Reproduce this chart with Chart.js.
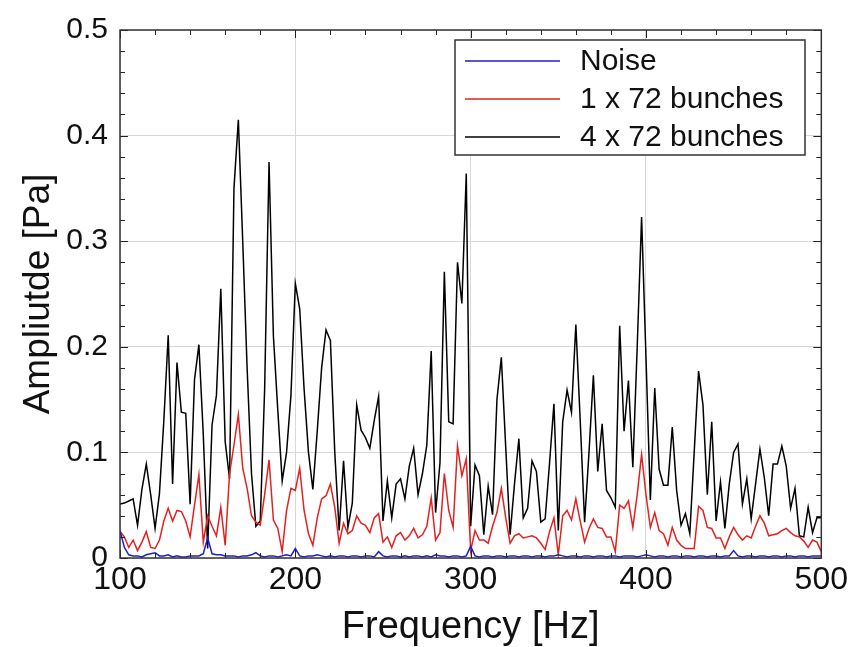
<!DOCTYPE html>
<html>
<head>
<meta charset="utf-8">
<script src="https://cdn.jsdelivr.net/npm/chart.js@4"></script>
<style>
  html, body { margin: 0; padding: 0; background: #fff; }
  #wrap { width: 851px; height: 647px; }
</style>
</head>
<body>
<div id="wrap"><canvas id="specChart" width="851" height="647"></canvas></div>
<script>
// spectrum sampled every 2.5 Hz from 100 to 500 Hz
const FREQ_START = 100;
const FREQ_STEP = 2.5;
const seriesLabels = ['Noise', '1 x 72 bunches', '4 x 72 bunches'];
const xTicks = [100, 200, 300, 400, 500];
const yTicks = [0, 0.1, 0.2, 0.3, 0.4, 0.5];

const noise = [
  0.026,0.010,0.003,0.002,0.002,0.001,0.003,0.004,0.005,0.002,
  0.002,0.003,0.001,0.002,0.001,0.001,0.002,0.002,0.002,0.004,
  0.019,0.004,0.003,0.003,0.002,0.002,0.002,0.001,0.002,0.002,
  0.003,0.005,0.002,0.001,0.002,0.002,0.001,0.002,0.003,0.002,
  0.009,0.002,0.001,0.002,0.002,0.003,0.002,0.001,0.002,0.001,
  0.002,0.002,0.001,0.002,0.002,0.001,0.002,0.002,0.001,0.006,
  0.002,0.001,0.002,0.002,0.001,0.002,0.001,0.002,0.002,0.001,
  0.002,0.001,0.003,0.002,0.002,0.001,0.002,0.002,0.001,0.002,
  0.011,0.002,0.001,0.002,0.002,0.001,0.002,0.002,0.001,0.002,
  0.002,0.001,0.002,0.002,0.001,0.002,0.002,0.001,0.002,0.002,
  0.003,0.002,0.001,0.002,0.002,0.001,0.002,0.002,0.001,0.002,
  0.002,0.001,0.002,0.002,0.001,0.002,0.002,0.002,0.001,0.002,
  0.003,0.002,0.001,0.002,0.002,0.001,0.002,0.002,0.001,0.002,
  0.002,0.001,0.002,0.002,0.001,0.002,0.002,0.001,0.002,0.002,
  0.007,0.002,0.001,0.002,0.002,0.001,0.002,0.002,0.001,0.002,
  0.002,0.001,0.002,0.002,0.001,0.002,0.002,0.001,0.002,0.002,
  0.002
];

const oneTrain = [
  0.025,0.020,0.010,0.017,0.007,0.015,0.025,0.010,0.009,0.017,
  0.035,0.047,0.035,0.045,0.044,0.035,0.020,0.050,0.079,0.015,
  0.040,0.030,0.021,0.048,0.012,0.080,0.107,0.136,0.085,0.066,
  0.040,0.034,0.031,0.060,0.093,0.036,0.028,0.006,0.045,0.066,
  0.064,0.085,0.045,0.023,0.012,0.038,0.056,0.059,0.070,0.048,
  0.014,0.033,0.023,0.026,0.040,0.033,0.031,0.024,0.038,0.042,
  0.015,0.020,0.010,0.021,0.024,0.017,0.021,0.028,0.019,0.022,
  0.030,0.057,0.017,0.024,0.080,0.045,0.029,0.106,0.078,0.094,
  0.007,0.026,0.017,0.017,0.014,0.030,0.043,0.066,0.038,0.014,
  0.021,0.023,0.019,0.020,0.021,0.019,0.014,0.008,0.025,0.038,
  0.003,0.040,0.045,0.036,0.056,0.035,0.015,0.028,0.037,0.029,
  0.028,0.020,0.020,0.006,0.050,0.047,0.054,0.029,0.060,0.098,
  0.060,0.029,0.043,0.026,0.023,0.012,0.029,0.017,0.012,0.009,
  0.009,0.009,0.049,0.045,0.029,0.028,0.019,0.019,0.009,0.020,
  0.029,0.022,0.017,0.021,0.019,0.030,0.040,0.033,0.021,0.022,
  0.023,0.026,0.028,0.024,0.021,0.020,0.016,0.010,0.017,0.015,
  0.006
];

const fourTrains = [
  0.051,0.052,0.054,0.056,0.031,0.065,0.089,0.060,0.028,0.061,
  0.130,0.211,0.070,0.185,0.138,0.137,0.051,0.169,0.202,0.117,
  0.009,0.126,0.154,0.255,0.110,0.075,0.350,0.415,0.300,0.180,
  0.080,0.030,0.035,0.160,0.375,0.210,0.140,0.073,0.100,0.154,
  0.260,0.236,0.160,0.100,0.065,0.120,0.180,0.216,0.206,0.100,
  0.026,0.092,0.029,0.052,0.145,0.121,0.114,0.104,0.130,0.153,
  0.035,0.073,0.038,0.070,0.075,0.056,0.087,0.104,0.060,0.080,
  0.107,0.196,0.043,0.090,0.271,0.129,0.127,0.280,0.241,0.364,
  0.030,0.088,0.078,0.022,0.068,0.041,0.150,0.190,0.105,0.022,
  0.070,0.113,0.038,0.047,0.092,0.082,0.034,0.037,0.090,0.146,
  0.026,0.129,0.159,0.138,0.221,0.130,0.034,0.100,0.173,0.082,
  0.127,0.064,0.057,0.048,0.220,0.120,0.168,0.086,0.200,0.323,
  0.190,0.055,0.161,0.084,0.069,0.069,0.124,0.064,0.031,0.042,
  0.023,0.100,0.177,0.145,0.060,0.129,0.035,0.072,0.028,0.070,
  0.100,0.108,0.051,0.075,0.037,0.070,0.103,0.076,0.040,0.089,
  0.089,0.106,0.087,0.047,0.066,0.021,0.020,0.048,0.024,0.038,
  0.038
];

const colors = ['#1f1fc8', '#e3211f', '#000000'];

function toPoints(values) {
  return values.map((v, i) => ({ x: FREQ_START + i * FREQ_STEP, y: v }));
}

const FONT = '"Liberation Sans", Arial, sans-serif';

// frame, inward minor ticks and the boxed legend inside the plot
const framePlugin = {
  id: 'frame',
  afterDraw(chart) {
    const { ctx, chartArea: a, scales } = chart;
    const xs = scales.x, ys = scales.y;
    ctx.save();
    ctx.strokeStyle = '#222';
    ctx.lineWidth = 1;
    // minor ticks on all four sides
    for (let v = 0; v <= 0.5001; v += 0.02) {
      const py = Math.round(ys.getPixelForValue(v)) + 0.5;
      const len = Math.abs((v * 10) - Math.round(v * 10)) < 1e-6 ? 8 : 5;
      ctx.beginPath();
      ctx.moveTo(a.left, py); ctx.lineTo(a.left + len, py);
      ctx.moveTo(a.right, py); ctx.lineTo(a.right - len, py);
      ctx.stroke();
    }
    for (let f = 100; f <= 500; f += 20) {
      const px = Math.round(xs.getPixelForValue(f)) + 0.5;
      const len = f % 100 === 0 ? 8 : 5;
      ctx.beginPath();
      ctx.moveTo(px, a.bottom); ctx.lineTo(px, a.bottom - len);
      ctx.moveTo(px, a.top); ctx.lineTo(px, a.top + len);
      ctx.stroke();
    }
    ctx.lineWidth = 1.5;
    ctx.strokeStyle = '#333';
    ctx.strokeRect(a.left, a.top, a.right - a.left, a.bottom - a.top);

    // legend
    const bx = 455, by = 40, bw = 350, bh = 115;
    ctx.fillStyle = '#fff';
    ctx.fillRect(bx, by, bw, bh);
    ctx.lineWidth = 1.5;
    ctx.strokeStyle = '#333';
    ctx.strokeRect(bx, by, bw, bh);
    ctx.font = '30px ' + FONT;
    ctx.textBaseline = 'middle';
    chart.data.datasets.forEach((ds, i) => {
      const ry = by + 21 + i * 38;
      ctx.strokeStyle = ds.borderColor;
      ctx.lineWidth = 1.5;
      ctx.beginPath();
      ctx.moveTo(bx + 10, ry); ctx.lineTo(bx + 105, ry);
      ctx.stroke();
      ctx.fillStyle = '#111';
      ctx.fillText(ds.label, bx + 125, ry + 1);
    });
    ctx.restore();
  }
};

const ctx = document.getElementById('specChart').getContext('2d');
const specChart = new Chart(ctx, {
  type: 'line',
  data: {
    datasets: [
      { label: seriesLabels[0], data: toPoints(noise), borderColor: colors[0] },
      { label: seriesLabels[1], data: toPoints(oneTrain), borderColor: colors[1] },
      { label: seriesLabels[2], data: toPoints(fourTrains), borderColor: colors[2] }
    ]
  },
  options: {
    responsive: false,
    animation: false,
    layout: { padding: { top: 24, right: 29, left: 0, bottom: 0 } },
    elements: {
      point: { radius: 0 },
      line: { borderWidth: 1.5, tension: 0 }
    },
    scales: {
      x: {
        type: 'linear',
        min: 100,
        max: 500,
        afterFit: s => { s.height = 89; },
        afterBuildTicks: s => { s.ticks = xTicks.map(v => ({ value: v })); },
        grid: { color: '#d8d8d8', lineWidth: 1, drawTicks: false },
        border: { display: false },
        ticks: {
          color: '#111',
          padding: 3,
          font: { family: FONT, size: 32 },
          callback: v => String(v)
        },
        title: {
          display: true,
          text: 'Frequency [Hz]',
          color: '#111',
          font: { family: FONT, size: 38, lineHeight: 1 },
          padding: { top: 0, bottom: 0 }
        }
      },
      y: {
        min: 0,
        max: 0.5,
        afterFit: s => { s.width = 120; },
        afterBuildTicks: s => { s.ticks = yTicks.map(v => ({ value: v })); },
        grid: { color: '#d8d8d8', lineWidth: 1, drawTicks: false },
        border: { display: false },
        ticks: {
          color: '#111',
          padding: 12,
          font: { family: FONT, size: 30 },
          callback: v => (v === 0 ? '0' : v.toFixed(1))
        },
        title: {
          display: true,
          text: 'Ampliutde [Pa]',
          color: '#111',
          font: { family: FONT, size: 37, lineHeight: 1 },
          padding: { top: 20, bottom: 0 }
        }
      }
    },
    plugins: {
      legend: { display: false },
      tooltip: { enabled: false }
    }
  },
  plugins: [framePlugin]
});
</script>
</body>
</html>
